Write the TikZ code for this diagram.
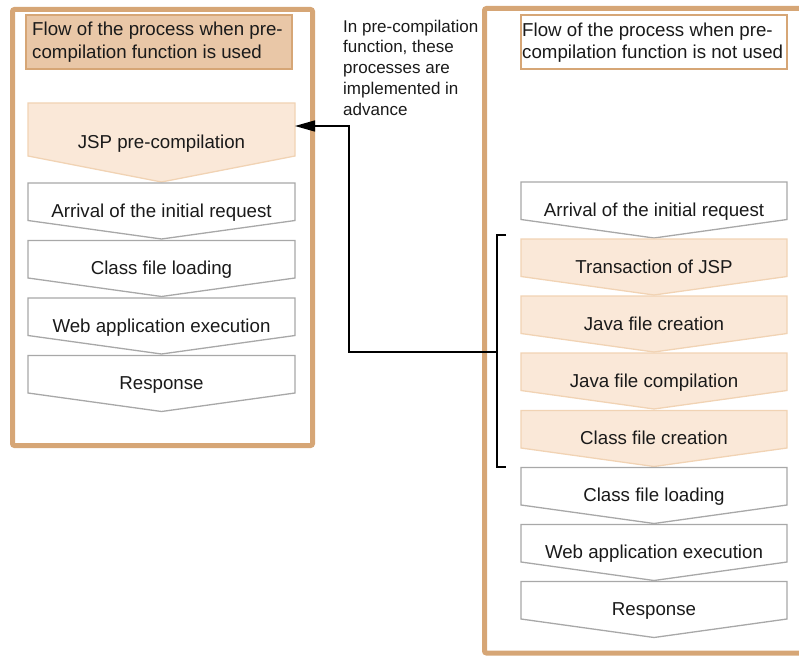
\documentclass[tikz,border=0pt]{standalone}
\usepackage{fontspec}
\setmainfont{Liberation Sans}
\usetikzlibrary{arrows.meta}

\definecolor{frametan}{HTML}{D6A676}
\definecolor{titlefill}{HTML}{E9C7A7}
\definecolor{palefill}{HTML}{FAE8D8}
\definecolor{paleedge}{HTML}{F1D3B4}
\definecolor{greyedge}{HTML}{A8A8A8}
\definecolor{ink}{HTML}{1A1A1A}

% one step of a flow: name, left x, right x, top y, side-bottom y, tip y, shape style, label
\newcommand\flowstep[8]{%
  \draw[#7] (#2,#4) -- (#3,#4) -- (#3,#5) -- ({(#2+#3)/2},#6) -- (#2,#5) -- cycle;
  \node[steptext] (#1) at ({(#2+#3)/2},{(#4+#6)/2}) {#8};
}

\tikzset{
  frame/.style={draw=frametan, line width=5pt, rounded corners=2pt},
  titlebox/.style={draw=frametan, line width=1.6pt},
  plainstep/.style={draw=greyedge, fill=white, line width=1.3pt, line join=miter},
  palestep/.style={draw=paleedge, fill=palefill, line width=1.3pt, line join=miter},
  steptext/.style={font=\fontsize{18.7}{22.3}\selectfont, text=ink, inner sep=0pt,
                   text height=0.716em, text depth=0pt, anchor=center, yshift=-2.5pt},
  % multi-line texts are placed by the baseline of their last line
  titletext/.style={font=\fontsize{18.7}{22.3}\selectfont, text=ink, inner sep=0pt,
                    align=left, anchor=base west},
  notetext/.style={font=\fontsize{17}{20.7}\selectfont, text=ink, inner sep=0pt,
                   align=left, anchor=base west},
  link/.style={draw=black, line width=1.5pt},
}

\begin{document}
\begin{tikzpicture}[x=1pt, y=-1pt]
\useasboundingbox (0,0) rectangle (799,655);
\clip (0,0) rectangle (799,655);

% ---------- left column: with pre-compilation ----------
\draw[frame] (12.5,9.5) rectangle (312.5,445.5);
\draw[titlebox, fill=titlefill] (26,15) rectangle (292,69);
\node[titletext] (titleL) at (32,58.3) {Flow of the process when pre-\\compilation function is used};

\flowstep{jsp}{28}{295}{103}{156}{182}{palestep}{JSP pre-compilation}
\flowstep{arrL}{28}{295}{183}{220.5}{239}{plainstep}{Arrival of the initial request}
\flowstep{loadL}{28}{295}{240.5}{278}{296.5}{plainstep}{Class file loading}
\flowstep{execL}{28}{295}{298}{335.5}{354}{plainstep}{Web application execution}
\flowstep{respL}{28}{295}{355.5}{393}{411.5}{plainstep}{Response}

% ---------- note between the columns ----------
\node[notetext] (note) at (343,115.1) {In pre-compilation\\function, these\\processes are\\implemented in\\advance};

% ---------- right column: without pre-compilation ----------
\draw[frame] (484.5,8.5) rectangle (815,653);
\draw[titlebox, fill=white] (521,15) rectangle (787,69);
\node[titletext] (titleR) at (522,59) {Flow of the process when pre-\\compilation function is not used};

\flowstep{arrR}{521}{787}{182}{219.5}{238}{plainstep}{Arrival of the initial request}
\flowstep{trans}{521}{787}{239}{276.5}{295}{palestep}{Transaction of JSP}
\flowstep{jcreate}{521}{787}{296}{333.5}{352}{palestep}{Java file creation}
\flowstep{jcomp}{521}{787}{353}{390.5}{409}{palestep}{Java file compilation}
\flowstep{ccreate}{521}{787}{410.5}{448}{466.5}{palestep}{Class file creation}
\flowstep{loadR}{521}{787}{467.5}{505}{523.5}{plainstep}{Class file loading}
\flowstep{execR}{521}{787}{524.5}{562}{580.5}{plainstep}{Web application execution}
\flowstep{respR}{521}{787}{581.5}{619}{637.5}{plainstep}{Response}

% ---------- bracket over the steps done in advance, and the link ----------
\coordinate (brktop) at (497,235);
\coordinate (brkbot) at (497,467);
\coordinate (brkmid) at (497,352);
\coordinate (jspin) at (295,126);
\draw[link] ([xshift=9pt]brktop) -- (brktop) -- (brkbot) -- ([xshift=9pt]brkbot);
\draw[link, -{Triangle[length=20pt, width=11pt]}] (brkmid) -- ++(-148,0) |- (jspin);
\end{tikzpicture}
\end{document}
